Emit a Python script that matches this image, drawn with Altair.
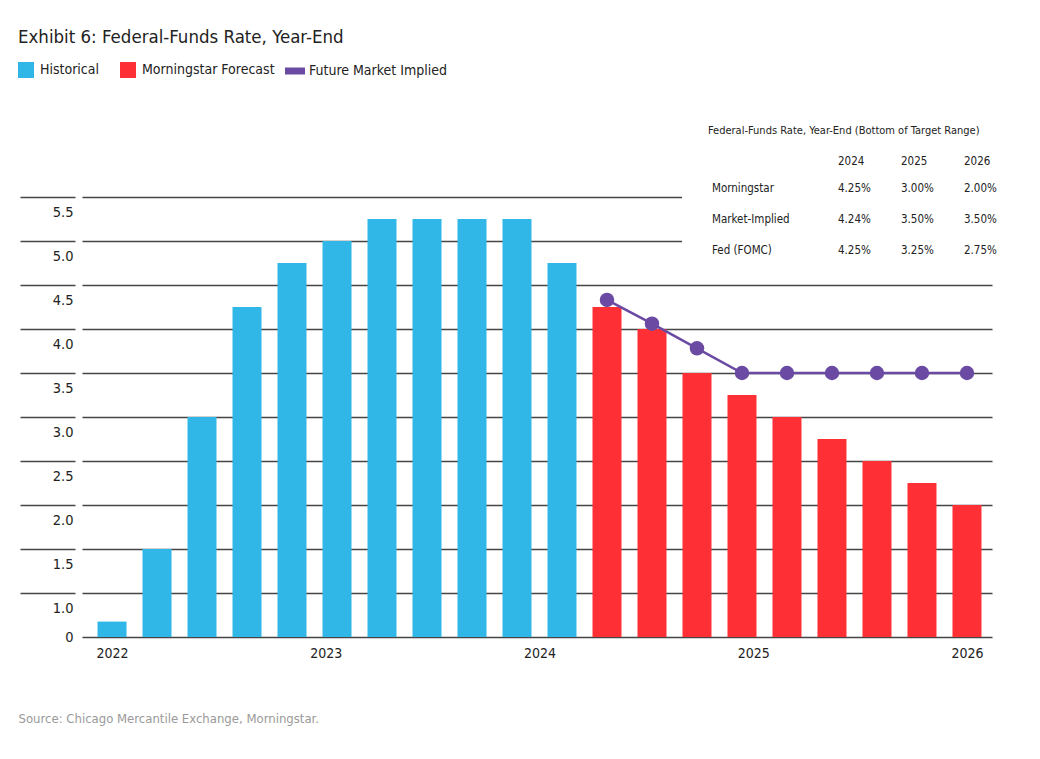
import altair as alt
import pandas as pd

# ---- data ----
hist_values = [0.35, 1.5, 3.0, 4.25, 4.75, 5.0, 5.25, 5.25, 5.25, 5.25, 4.75]
forecast_values = [4.25, 4.0, 3.5, 3.25, 3.0, 2.75, 2.5, 2.25, 2.0]
market_values = [4.33, 4.06, 3.78, 3.5, 3.5, 3.5, 3.5, 3.5, 3.5]
year_labels = ["2022", "2023", "2024", "2025", "2026"]
year_ticks = [0, 4.75, 9.5, 14.25, 19]
y_ticks = [0, 1.0, 1.5, 2.0, 2.5, 3.0, 3.5, 4.0, 4.5, 5.0, 5.5]

chart_title = "Exhibit 6: Federal-Funds Rate, Year-End"
source_text = "Source: Chicago Mercantile Exchange, Morningstar."
table_title = "Federal-Funds Rate, Year-End (Bottom of Target Range)"
table_years = ["2024", "2025", "2026"]
table_rows = ["Morningstar", "Market-Implied", "Fed (FOMC)"]
tbl_morningstar = [4.25, 3.00, 2.00]
tbl_market = [4.24, 3.50, 3.50]
tbl_fomc = [4.25, 3.25, 2.75]

CYAN = "#31b7e7"
RED = "#ff3035"
PURPLE = "#6a4aa2"
FONT = "'Liberation Sans Narrow', 'DejaVu Sans Condensed', 'Roboto', sans-serif"
TXT = "#222222"
GRID = "#454545"

bars = pd.DataFrame({
    "idx": list(range(len(hist_values) + len(forecast_values))),
    "value": hist_values + forecast_values,
    "series": ["Historical"] * len(hist_values) + ["Morningstar Forecast"] * len(forecast_values),
})
market = pd.DataFrame({
    "idx": list(range(len(hist_values), len(hist_values) + len(market_values))),
    "value": market_values,
    "series": ["Future Market Implied"] * len(market_values),
})

cells = []
for c, yr in enumerate(table_years):
    cells.append({"r": 0, "c": c + 1, "t": yr})
for r, (name, vals) in enumerate(zip(table_rows, [tbl_morningstar, tbl_market, tbl_fomc])):
    cells.append({"r": r + 1, "c": 0, "t": name})
    for c, v in enumerate(vals):
        cells.append({"r": r + 1, "c": c + 1, "t": f"{v:.2f}%"})
table = pd.DataFrame(cells)

year_expr = "[" + ",".join(f"'{y}'" for y in year_labels) + "][round(datum.value / 4.75)]"

x_scale = alt.Scale(domain=[-0.667, 19.556], nice=False, zero=False, padding=0)
y_scale = alt.Scale(domain=[0, 1, 6.5], range=[528, 484, 0], nice=False)

x_enc = alt.X(
    "idx:Q", scale=x_scale,
    axis=alt.Axis(
        values=year_ticks, labelExpr=year_expr, grid=False, ticks=False, domain=False,
        labelFont=FONT, labelFontSize=14, labelColor=TXT, labelPadding=9,
        title=source_text,
        titleX=-64, titleY=81, titleAlign="left", titleAnchor="start",
        titleBaseline="middle", titleFont=FONT, titleFontSize=13,
        titleFontWeight="normal", titleColor="#9a9a9a",
    ),
)
y_enc = alt.Y(
    "value:Q", scale=y_scale,
    axis=alt.Axis(
        values=y_ticks, title=None, domain=False, offset=7,
        labelExpr="datum.value == 0 ? '0' : format(datum.value, '.1f')",
        grid=True, gridColor=GRID, gridWidth=1.3,
        tickSize=55, tickWidth=1.3,
        tickColor={"condition": {"test": "datum.value == 0", "value": "transparent"}, "value": GRID},
        labelPadding=-53, labelBaseline="middle",
        labelOffset={"condition": {"test": "datum.value == 0", "value": 0}, "value": 15},
        labelFont=FONT, labelFontSize=14.5, labelColor=TXT,
    ),
)

bar_layer = alt.Chart(bars).mark_bar(width=29).encode(
    x=x_enc, y=y_enc,
    color=alt.Color(
        "series:N",
        scale=alt.Scale(domain=["Historical", "Morningstar Forecast"], range=[CYAN, RED]),
        legend=alt.Legend(
            orient="none", legendX=-64, legendY=-47, direction="horizontal", title=None,
            symbolType="square", symbolSize=256, symbolStrokeWidth=0, padding=0,
            columnPadding=21, labelOffset=6, labelFont=FONT, labelFontSize=14, labelColor=TXT,
        ),
    ),
)

line_layer = alt.Chart(market).mark_line(strokeWidth=2.5, color=PURPLE).encode(
    x="idx:Q", y="value:Q"
)

point_layer = alt.Chart(market).mark_circle(size=210, opacity=1).encode(
    x="idx:Q", y="value:Q",
    color=alt.Color(
        "series:N",
        scale=alt.Scale(domain=["Future Market Implied"], range=[PURPLE]),
        legend=alt.Legend(
            orient="none", legendX=203, legendY=-48, direction="horizontal", title=None,
            symbolType="M-1,-0.35L1,-0.35L1,0.35L-1,0.35Z", symbolSize=400,
            symbolStrokeWidth=0, padding=0, labelOffset=4,
            labelFont=FONT, labelFontSize=14, labelColor=TXT,
        ),
    ),
)

cover = alt.Chart(pd.DataFrame({"a": [0]})).mark_rect(fill="white").encode(
    x=alt.value(600), x2=alt.value(930), y=alt.value(-12), y2=alt.value(158)
)

title_layer = alt.Chart(pd.DataFrame({"t": [chart_title]})).mark_text(
    align="left", baseline="alphabetic", font=FONT, fontSize=18.5, color=TXT
).encode(x=alt.value(-64), y=alt.value(-66), text="t:N")

table_title_layer = alt.Chart(pd.DataFrame({"t": [table_title]})).mark_text(
    align="left", baseline="middle", font=FONT, fontSize=11, color=TXT
).encode(x=alt.value(626), y=alt.value(22), text="t:N")

table_layer = alt.Chart(table).transform_calculate(
    px="datum.c == 0 ? 630 : 756 + (datum.c - 1) * 63",
    py="datum.r == 0 ? 53 : 80 + (datum.r - 1) * 31",
).mark_text(align="left", baseline="middle", font=FONT, fontSize=11.5, color=TXT).encode(
    x=alt.X("px:Q", scale=None, axis=None),
    y=alt.Y("py:Q", scale=None, axis=None),
    text="t:N",
)

chart = alt.layer(
    bar_layer, line_layer, point_layer, cover, title_layer, table_title_layer, table_layer
).resolve_scale(color="independent").properties(
    width=910, height=528,
    autosize=alt.AutoSizeParams(type="none"),
    padding={"left": 74, "top": 101, "right": 40, "bottom": 110},
).configure_view(stroke=None)

chart.save("out.html", embed_options={"renderer": "svg", "actions": False})
